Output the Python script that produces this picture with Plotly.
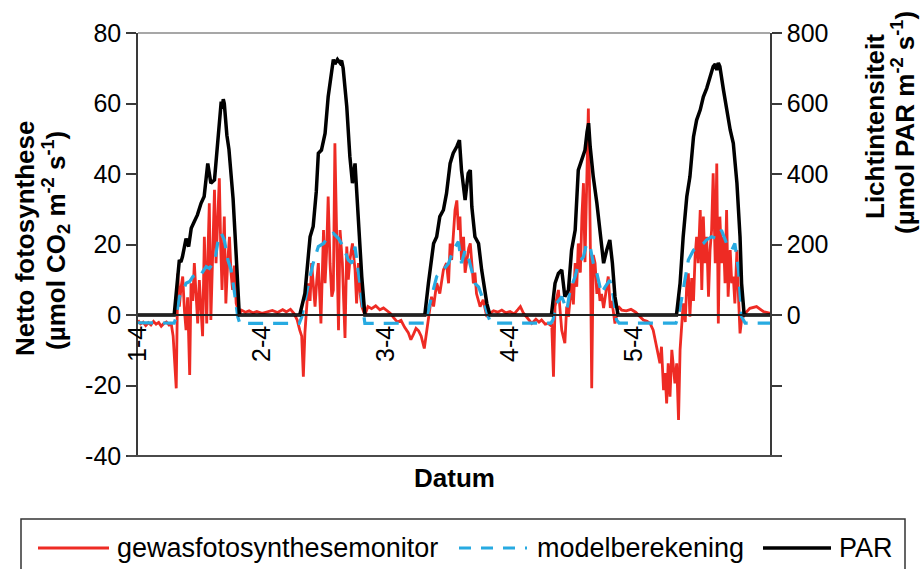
import plotly.graph_objects as go

# --- time axis: hours since 1 April 00:00 ---
dag_uren = [0, 24, 48, 72, 96]
dag_labels = ["1-4", "2-4", "3-4", "4-4", "5-4"]
eind_uur = 122.3

# left axis ticks (plain hyphen as minus sign)
links_ticks = [-40, -20, 0, 20, 40, 60, 80]
links_labels = ["-40", "-20", "0", "20", "40", "60", "80"]
# right axis ticks (negative part unlabeled)
rechts_ticks = [-400, -200, 0, 200, 400, 600, 800]
rechts_labels = ["", "", "0", "200", "400", "600", "800"]

# PAR (µmol m-2 s-1), right axis
par_uur = [0, 7.0, 8.0, 8.3, 8.6, 9.3, 9.8, 10.3, 10.9, 11.5, 12.2, 12.8, 13.5, 14.1, 14.8, 15.4,
           16.1, 16.3, 16.5, 16.7, 17.2, 17.6, 18.4, 19.0, 19.6,
           31.3, 32.3, 33.3, 33.9, 34.5, 34.9, 35.5, 36.2, 36.8, 37.5, 37.8, 38.1, 38.6, 39.1, 39.4,
           39.7, 40.4, 41.0, 41.5, 42.0, 42.6, 43.3, 43.9,
           55.5, 56.2, 57.2, 57.8, 58.4, 59.1, 59.7, 60.4, 61.0, 61.7, 62.2, 62.6, 63.3, 63.9, 64.3,
           64.6, 65.2, 65.9, 66.5, 67.5, 68.1,
           80.0, 80.7, 81.35, 82.0, 82.6, 83.3, 83.9, 84.6, 85.2, 85.9, 86.5, 86.9, 87.2, 87.5, 88.1,
           88.8, 89.4, 90.1, 90.7, 91.3, 91.8, 92.3, 92.9,
           104.2, 104.9, 105.5, 106.2, 106.8, 107.5, 108.1, 108.8, 109.4, 110.05, 110.7, 111.3, 111.7,
           112.0, 112.3, 112.6, 113.3, 113.9, 114.6, 115.2, 115.9, 116.5, 116.8, 117.3, 122.3]
par = [0, 0, 156, 150, 165, 217, 194, 246, 265, 284, 317, 336, 430, 374, 383, 487,
       605, 585, 612, 600, 510, 470, 330, 170, 0,
       0, 61, 222, 251, 350, 459, 468, 515, 619, 705, 725, 712, 725, 715, 722,
       700, 591, 449, 374, 430, 279, 109, 0,
       0, 90, 203, 222, 279, 298, 345, 430, 459, 478, 496, 411, 326, 402, 411,
       307, 222, 203, 128, 33, 0,
       0, 90, 118, 128, 52, 71, 184, 241, 411, 440, 468, 520, 544, 478, 392,
       317, 232, 147, 184, 213, 147, 52, 0,
       0, 90, 222, 336, 392, 506, 553, 582, 619, 643, 676, 705, 712,
       695, 715, 705, 638, 582, 525, 487, 374, 222, 90, 0, 0]

# model calculation (µmol CO2 m-2 s-1), left axis
model_uur = [0, 7.0, 7.4, 8.0, 8.6, 9.3, 10.0, 10.6, 11.3, 11.9, 12.5, 13.2, 13.8, 14.5, 15.0, 15.4,
             16.1, 16.7, 17.4, 18.0, 18.6, 19.3, 19.7,
             31.2, 31.7, 32.3, 33.0, 33.9, 34.9, 35.9, 36.8, 37.8, 38.8, 39.7, 40.7, 41.4, 42.0, 42.6,
             43.3, 43.9,
             55.4, 55.9, 56.8, 57.8, 59.1, 60.1, 61.0, 62.0, 62.6, 63.3, 63.9, 64.6, 65.2, 65.9, 66.8,
             67.8, 68.3,
             79.9, 80.3, 81.0, 82.0, 83.0, 83.6, 84.6, 85.2, 86.2, 86.8, 87.5, 88.1, 88.8, 89.7, 90.4,
             91.3, 92.0, 92.6, 93.1,
             104.1, 104.6, 105.5, 106.5, 107.5, 108.4, 109.4, 110.0, 111.0, 112.0, 112.9, 113.9, 114.9,
             115.5, 116.2, 116.8, 117.5, 122.3]
model = [-2.2, -2.3, -0.5, 5.2, 6.5, 9.0, 9.5, 10.9, 11.5, 12.8, 12.2, 13.7, 13.2, 14.7, 16.5, 20.3,
         23.2, 21.3, 15.6, 12.8, 7.1, -0.5, -2.4,
         -2.4, -0.5, 4.0, 9.0, 14.7, 19.4, 20.3, 22.2, 23.2, 21.7, 19.4, 15.6, 14.7, 19.4, 12.8,
         5.2, -2.4,
         -2.3, -0.5, 5.2, 10.9, 12.8, 14.7, 18.4, 20.8, 14.7, 18.4, 16.5, 12.8, 9.0, 8.0, 4.3,
         -0.5, -2.3,
         -2.3, -1.4, 3.3, 5.2, 1.4, 7.1, 10.9, 14.7, 16.5, 20.3, 19.4, 14.7, 11.8, 6.1, 8.0,
         9.9, 5.2, -1.4, -2.3,
         -2.3, -0.5, 7.1, 15.6, 18.4, 19.4, 20.3, 21.3, 22.2, 21.7, 24.1, 20.3, 18.4,
         20.3, 12.8, -0.5, -2.3, -2.3]

# crop photosynthesis monitor (µmol CO2 m-2 s-1), left axis
monitor_uur = [0, 0.5, 1.0, 1.5, 2.0, 2.5, 3.0, 3.5, 4.0, 4.5, 5.0, 5.5, 6.0, 6.4, 6.8,
               7.2, 7.4, 7.7, 8.0, 8.3, 8.65, 9.0, 9.3, 9.6, 10.0, 10.26, 10.6, 10.9, 11.2, 11.55,
               11.87, 12.2, 12.5, 12.84, 13.1, 13.3, 13.55, 13.8, 14.1, 14.45, 14.8, 15.1, 15.4, 15.74,
               16.0, 16.26, 16.7, 17.0, 17.35, 17.7, 18.0, 18.3, 18.65, 19.0, 19.6,
               20.0, 20.8, 21.5, 22.3, 23.0, 24.0, 25.0, 26.0, 27.0, 28.0, 28.7, 29.5, 30.2, 30.8, 31.3,
               31.68, 32.0, 32.3, 32.97, 33.3, 33.6, 34.26, 34.6, 34.9, 35.4, 35.9, 36.2, 36.5, 36.8,
               37.16, 37.5, 37.8, 38.1, 38.45, 38.8, 39.1, 39.55, 39.8, 40.06, 40.4, 40.7, 41.0, 41.5,
               42.0, 42.3, 42.65, 43.0, 43.3, 43.9,
               44.5, 45.2, 46.0, 46.8, 47.5, 48.3, 48.8, 49.5, 50.2, 50.9, 51.6, 52.3, 52.8, 53.3,
               53.8, 54.3, 54.8, 55.4, 55.8,
               56.2, 56.8, 57.2, 57.8, 58.4, 59.1, 59.7, 60.1, 60.4, 60.7, 61.35, 61.7, 62.0, 62.3,
               62.6, 63.0, 63.3, 63.6, 64.0, 64.3, 64.9, 65.2, 65.5, 66.2, 66.8, 67.5, 68.1,
               68.8, 69.6, 70.4, 71.2, 72.0, 72.8, 73.5, 74.0, 74.6, 75.4, 76.2, 77.0, 77.6, 78.1,
               78.8, 79.4, 79.9,
               80.06, 80.4, 80.7, 81.35, 82.0, 82.6, 82.96, 83.3, 83.9, 84.25, 84.6, 84.9, 85.2, 85.6,
               85.9, 86.2, 86.5, 86.8, 87.15, 87.5, 87.8, 88.1, 88.45, 88.8, 89.1, 89.4, 89.7, 90.1,
               90.4, 90.7, 91.0, 91.4, 91.7, 92.3, 92.96,
               93.6, 94.5, 95.4, 96.3, 97.15, 97.8, 98.5, 99.1, 99.7, 100.4, 101.0, 101.3, 101.7,
               102.0, 102.3, 102.6, 102.95, 103.3, 103.6, 103.9, 104.25, 104.6, 104.9, 105.2, 105.5,
               105.9, 106.2, 106.5, 106.8, 107.15, 107.5, 107.8, 108.1, 108.4, 108.8, 109.1, 109.4,
               109.7, 110.05, 110.4, 110.7, 111.0, 111.3, 111.7, 112.0, 112.3, 112.6, 112.95, 113.3,
               113.6, 113.9, 114.2, 114.6, 114.9, 115.2, 115.5, 115.9, 116.2, 116.5, 116.8, 117.5,
               118.4, 119.7, 121.0, 122.3]
monitor = [-1.5, -2.5, -2.0, -3.0, -2.2, -2.8, -1.8, -2.6, -2.1, -3.2, -2.4, -2.0, -2.8, -2.2, -6.0,
           -14.0, -20.8, 11.8, 2.4, 7.5, 10.9, 1.0, -4.3, 5.0, -17.0, 9.0, 4.0, 14.7, 6.0, -2.4,
           9.9, 3.0, -6.0, 22.2, 8.0, -2.4, 18.0, 31.7, -1.4, 20.0, 35.5, 14.7, 24.0, 38.8,
           20.0, 7.1, 27.9, 3.3, 15.0, 22.2, 12.0, 7.1, 14.0, 3.3, 0,
           1.4, 0.8, 1.2, 0.6, 1.0, 0.5, 0.8, 1.3, 0.7, 1.5, 0.9, 1.6, 0.4, -1.4, -4.3,
           -6.0, -17.5, -5.0, 9.0, 4.0, 14.7, 2.4, 10.0, 14.7, -2.4, 24.1, 9.0, 18.0, 33.6,
           14.7, 5.2, 7.1, 48.7, 22.2, -4.3, 24.1, 14.7, 4.0, -6.5, 19.4, 10.0, 15.6, 20.3,
           12.8, 3.3, 14.7, 6.0, 2.4, 0,
           2.4, 1.8, 2.6, 1.5, 2.0, 1.0, 0.5, -0.8, -2.0, -1.5, -3.5, -5.0, -7.0, -5.5,
           -3.8, -4.5, -6.0, -9.5, -5.0,
           -0.5, 5.2, 2.4, 9.0, 6.1, 12.8, 14.7, 9.0, 20.3, 15.6, 29.8, 32.5, 24.1, 27.9,
           15.6, 22.2, 12.0, 14.7, 19.0, 20.3, 9.0, 12.0, 6.1, 2.4, 4.3, -0.5, 0.5,
           1.2, 0.8, 1.4, 0.6, 1.0, 0.3, 1.5, 2.4, 0.5, -0.8, -2.4, -1.2, -2.0, -1.4,
           -2.6, -2.4, -3.0,
           -2.4, -17.5, 2.4, 7.1, -4.3, -8.0, 2.4, -0.5, 9.0, 3.0, 14.7, 8.0, 20.3, 12.0,
           27.9, 37.4, 15.0, 33.6, 58.6, 24.1, -20.8, 17.0, 14.7, 6.0, 9.0, 4.0, 6.0, 2.0,
           5.2, 8.0, 10.9, 2.0, 4.0, -2.4, 2.4,
           1.4, 1.2, 1.6, 0.8, -0.5, -1.4, -1.8, -2.4, -4.3, -9.9, -13.7, -9.0, -21.3,
           -16.5, -25.1, -13.7, -23.2, -9.9, -15.6, -19.4, -13.7, -29.8, -9.9, -4.3, 3.3,
           -2.0, 9.0, 11.8, -0.5, 10.5, 4.0, 16.5, 22.2, 14.7, 29.8, 7.1, 27.9,
           14.7, 22.2, 5.2, 18.4, 24.1, 40.2, 14.7, 43.0, -2.4, 27.9, 14.7, 22.2,
           9.0, 29.8, 5.2, 18.4, 9.0, 10.9, 3.3, 18.4, 5.2, -5.2, -1.4, 0.5,
           1.9, 2.4, 1.0, 0.5]

# series styling, shared by the traces and the legend key below the chart
reeksen = [
    ("gewasfotosynthesemonitor", "#EE2B24", 2.8, "solid"),
    ("modelberekening", "#27AAE1", 3.2, "15px,10px"),
    ("PAR", "#000000", 3.5, "solid"),
]

# ---- layout geometry (pixels) ----
W, H = 923, 569
L, R, T, B = 138, 770, 33, 456


def px_x(x):
    return (x - L) / (R - L)


def px_y(y):
    return (B - y) / (B - T)


FONT = "Liberation Sans, Arial, sans-serif"
AXC = "#3a3a3a"

fig = go.Figure()
for (naam, kleur, dikte, streep), xs, ys, as_ in zip(
        reeksen,
        [monitor_uur, model_uur, par_uur],
        [monitor, model, par],
        ["y", "y", "y2"]):
    fig.add_trace(go.Scatter(x=xs, y=ys, mode="lines", name=naam,
                             line=dict(color=kleur, width=dikte, dash=streep),
                             yaxis=as_, showlegend=False))

# legend key drawn as a framed row under the chart
leg_y = px_y(548)
leg_items = [(38, 109, 115), (459, 527, 535), (763, 831, 837)]
shapes = [
    dict(type="line", xref="paper", yref="paper", x0=0, x1=1, y0=1, y1=1,
         line=dict(color="#8a8a8a", width=1.5)),
    dict(type="line", xref="paper", yref="paper", x0=px_x(128), x1=px_x(780), y0=0, y1=0,
         line=dict(color="#4a4a4a", width=2)),
    dict(type="rect", xref="paper", yref="paper", x0=px_x(21), x1=px_x(905),
         y0=px_y(580), y1=px_y(519), line=dict(color="#333333", width=1.5)),
]
annotations = []
for (naam, kleur, dikte, streep), (a, b, t) in zip(reeksen, leg_items):
    shapes.append(dict(type="line", xref="paper", yref="paper",
                       x0=px_x(a), x1=px_x(b), y0=leg_y, y1=leg_y,
                       line=dict(color=kleur, width=dikte,
                                 dash="12px,10px" if streep != "solid" else "solid")))
    annotations.append(dict(text=naam, xref="paper", yref="paper", x=px_x(t), y=leg_y,
                            xanchor="left", yanchor="middle", showarrow=False,
                            font=dict(size=27)))

annotations += [
    dict(text="<b>Netto fotosynthese</b>", xref="paper", yref="paper",
         x=px_x(25), y=px_y(239), textangle=-90, showarrow=False,
         font=dict(size=26), xanchor="center", yanchor="middle"),
    dict(text="<b>(µmol CO<sub>2</sub> m<sup>-2</sup> s<sup>-1</sup>)</b>",
         xref="paper", yref="paper",
         x=px_x(56), y=px_y(241), textangle=-90, showarrow=False,
         font=dict(size=26), xanchor="center", yanchor="middle"),
    dict(text="<b>Lichtintensiteit</b>", xref="paper", yref="paper",
         x=px_x(875), y=px_y(127), textangle=-90, showarrow=False,
         font=dict(size=26), xanchor="center", yanchor="middle"),
    dict(text="<b>(µmol PAR m<sup>-2</sup> s<sup>-1</sup>)</b>", xref="paper", yref="paper",
         x=px_x(904), y=px_y(123), textangle=-90, showarrow=False,
         font=dict(size=26), xanchor="center", yanchor="middle"),
    dict(text="<b>Datum</b>", xref="paper", yref="paper",
         x=0.5, y=px_y(478), showarrow=False,
         font=dict(size=26), xanchor="center", yanchor="middle"),
]

fig.update_layout(
    width=W, height=H,
    margin=dict(l=L, r=W - R, t=T, b=H - B),
    paper_bgcolor="white", plot_bgcolor="white",
    font=dict(family=FONT, color="black", size=25),
    showlegend=False,
    xaxis=dict(
        range=[0, eind_uur], anchor="free", position=40 / 120,
        showline=True, linecolor="#222222", linewidth=1.5,
        ticks="", tickvals=dag_uren, ticktext=dag_labels, tickangle=-90,
        tickfont=dict(size=25), showgrid=False, zeroline=False,
    ),
    yaxis=dict(
        range=[-40, 80], tickvals=links_ticks, ticktext=links_labels,
        ticks="outside", ticklen=10, tickwidth=1.5, tickcolor=AXC,
        showline=True, linecolor=AXC, linewidth=1.5,
        showgrid=False, zeroline=False, tickfont=dict(size=25),
    ),
    yaxis2=dict(
        range=[-400, 800], overlaying="y", side="right",
        tickvals=rechts_ticks, ticktext=rechts_labels,
        ticks="outside", ticklen=10, tickwidth=1.5, tickcolor=AXC,
        showline=True, linecolor=AXC, linewidth=1.5,
        showgrid=False, zeroline=False, tickfont=dict(size=25),
    ),
    shapes=shapes,
    annotations=annotations,
)

fig.write_html("out.html")
